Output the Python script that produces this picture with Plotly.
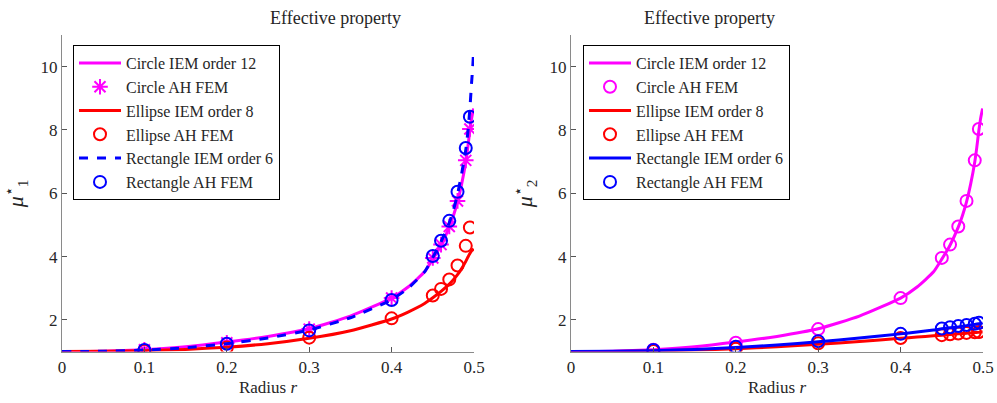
import plotly.graph_objects as go
from plotly.subplots import make_subplots

# ---- data ----
r_curve = [0, 0.05, 0.1, 0.15, 0.2, 0.25, 0.3, 0.35, 0.4, 0.42, 0.44, 0.45, 0.46,
           0.47, 0.475, 0.48, 0.485, 0.49, 0.4925, 0.495, 0.497, 0.4985, 0.4995]
circle_curve = [1.00, 1.01, 1.06, 1.15, 1.30, 1.48, 1.72, 2.12, 2.69, 3.04, 3.52, 3.92,
                4.36, 4.93, 5.29, 5.73, 6.29, 6.99, 7.46, 7.99, 8.35, 8.55, 8.68]
rect1_curve = [1.00, 1.01, 1.05, 1.12, 1.25, 1.43, 1.68, 2.07, 2.64, 3.00, 3.52, 3.97,
               4.47, 5.07, 5.47, 5.97, 6.62, 7.37, 7.92, 8.67, 9.47, 10.0, 10.5]
ell1_curve = [1.00, 1.01, 1.03, 1.07, 1.14, 1.25, 1.42, 1.66, 2.03, 2.25, 2.52, 2.70,
              2.90, 3.13, 3.27, 3.43, 3.62, 3.85, 3.98, 4.10, 4.18, 4.22, 4.25]
ell2_curve = [1.00, 1.005, 1.02, 1.05, 1.09, 1.15, 1.23, 1.32, 1.42, 1.46, 1.50, 1.52,
              1.54, 1.56, 1.57, 1.58, 1.59, 1.60, 1.605, 1.61, 1.615, 1.62, 1.62]
rect2_curve = [1.00, 1.008, 1.03, 1.07, 1.13, 1.21, 1.31, 1.43, 1.56, 1.62, 1.68, 1.72,
               1.75, 1.78, 1.80, 1.82, 1.84, 1.86, 1.87, 1.88, 1.89, 1.90, 1.91]

r_pts = [0.1, 0.2, 0.3, 0.4, 0.45, 0.46, 0.47, 0.48, 0.49, 0.495]
circle_pts = [1.06, 1.28, 1.71, 2.69, 3.96, 4.38, 4.95, 5.76, 7.04, 8.03]
ell1_pts = [1.03, 1.13, 1.44, 2.05, 2.77, 2.98, 3.28, 3.72, 4.34, 4.92]
rect1_pts = [1.05, 1.25, 1.67, 2.63, 4.02, 4.50, 5.13, 6.05, 7.43, 8.42]
ell2_pts = [1.02, 1.09, 1.26, 1.43, 1.52, 1.55, 1.57, 1.59, 1.61, 1.62]
rect2_pts = [1.05, 1.15, 1.33, 1.56, 1.73, 1.77, 1.81, 1.84, 1.88, 1.91]

x_ticks = [0, 0.1, 0.2, 0.3, 0.4, 0.5]
x_tick_labels = ["0", "0.1", "0.2", "0.3", "0.4", "0.5"]
y_ticks = [2, 4, 6, 8, 10]
y_tick_labels = ["2", "4", "6", "8", "10"]

FONT = "'Liberation Serif', 'Times New Roman', serif"
TXT = "#262626"
MAG, RED, BLUE = "#ff00ff", "#ff0000", "#0000ff"

fig = make_subplots(rows=1, cols=2)

def add_panel(col, legend, circ_sym, rect_dash, ell_c, ell_p, rect_c, rect_p):
    fig.add_trace(go.Scatter(x=r_curve, y=circle_curve, mode="lines", name="Circle IEM order 12",
                             line=dict(color=MAG, width=3, shape="spline", smoothing=0.5),
                             legend=legend), row=1, col=col)
    sym = "asterisk-open" if circ_sym == "star" else "circle-open"
    size = 13 if circ_sym == "star" else 12
    fig.add_trace(go.Scatter(x=r_pts, y=circle_pts, mode="markers", name="Circle AH FEM",
                             marker=dict(symbol=sym, size=size, color=MAG,
                                         line=dict(color=MAG, width=2)), legend=legend), row=1, col=col)
    fig.add_trace(go.Scatter(x=r_curve, y=ell_c, mode="lines", name="Ellipse IEM order 8",
                             line=dict(color=RED, width=3, shape="spline", smoothing=0.5),
                             legend=legend), row=1, col=col)
    fig.add_trace(go.Scatter(x=r_pts, y=ell_p, mode="markers", name="Ellipse AH FEM",
                             marker=dict(symbol="circle-open", size=12, color=RED,
                                         line=dict(color=RED, width=2)), legend=legend), row=1, col=col)
    fig.add_trace(go.Scatter(x=r_curve, y=rect_c, mode="lines", name="Rectangle IEM order 6",
                             line=dict(color=BLUE, width=3, dash=rect_dash, shape="spline", smoothing=0.5),
                             legend=legend), row=1, col=col)
    fig.add_trace(go.Scatter(x=r_pts, y=rect_p, mode="markers", name="Rectangle AH FEM",
                             marker=dict(symbol="circle-open", size=12, color=BLUE,
                                         line=dict(color=BLUE, width=2)), legend=legend), row=1, col=col)

add_panel(1, "legend", "star", "dash", ell1_curve, ell1_pts, rect1_curve, rect1_pts)
add_panel(2, "legend2", "circle", "solid", ell2_curve, ell2_pts, rect2_curve, rect2_pts)

# body margin is removed by post_script, so window pixels == figure pixels
W, H = 997, 403

def px(xw):
    return xw / W

def py(yw):
    return (H - yw) / H

ydom = [py(351.6), py(35)]
axis_common = dict(showline=True, linecolor="#8a8a8a", linewidth=1, mirror=False,
                   ticks="inside", ticklen=5, tickcolor="#555555", showgrid=False, zeroline=False,
                   automargin=False,
                   tickfont=dict(family=FONT, size=17, color=TXT))
fig.update_xaxes(range=[0, 0.5], tickvals=x_ticks, ticktext=x_tick_labels, **axis_common)
fig.update_yaxes(range=[1, 11], tickvals=y_ticks, ticktext=y_tick_labels, **axis_common)
fig.update_xaxes(domain=[px(62), px(474)], row=1, col=1)
fig.update_xaxes(domain=[px(571), px(983)], row=1, col=2)
fig.update_yaxes(domain=ydom)
for c in (1, 2):
    fig.update_xaxes(title=dict(text="Radius <i>r</i>", font=dict(family=FONT, size=17, color=TXT),
                                standoff=5), row=1, col=c)
fig.update_yaxes(title=dict(text="<i>μ</i><sup>⋆</sup><sub>1</sub>", font=dict(family=FONT, size=22, color=TXT),
                            standoff=10), row=1, col=1)
fig.update_yaxes(title=dict(text="<i>μ</i><sup>⋆</sup><sub>2</sub>", font=dict(family=FONT, size=22, color=TXT),
                            standoff=10), row=1, col=2)

leg_common = dict(bgcolor="white", bordercolor="black", borderwidth=1,
                  font=dict(family=FONT, size=16, color=TXT),
                  xanchor="left", yanchor="top", itemwidth=42, tracegroupgap=0,
                  y=py(45))
fig.update_layout(
    width=W, height=H, margin=dict(l=0, r=0, t=0, b=0),
    plot_bgcolor="white", paper_bgcolor="white",
    font=dict(family=FONT, color=TXT),
    hovermode=False,
    legend=dict(x=px(73), **leg_common),
    legend2=dict(x=px(583), **leg_common),
    annotations=[
        dict(text="Effective property", x=px(268), y=py(18), xref="paper", yref="paper",
             showarrow=False, font=dict(family=FONT, size=18, color=TXT), yanchor="middle"),
        dict(text="Effective property", x=px(777), y=py(18), xref="paper", yref="paper",
             showarrow=False, font=dict(family=FONT, size=18, color=TXT), yanchor="middle"),
    ],
)
fig.write_html("out.html", config={"displayModeBar": False},
               post_script="document.body.style.margin='0';document.body.style.overflow='hidden';")
